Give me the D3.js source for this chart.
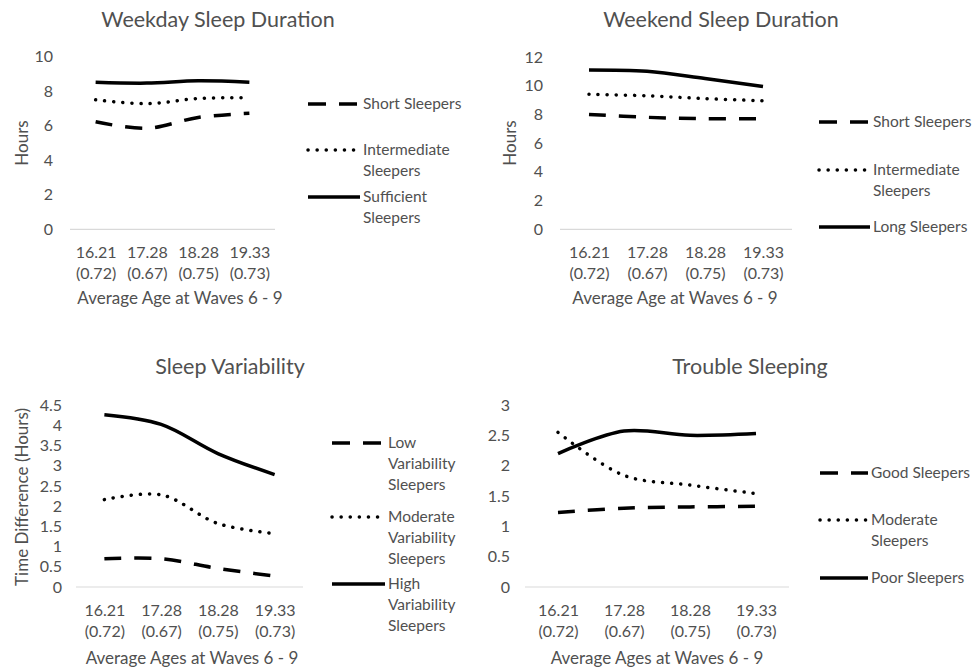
<!DOCTYPE html>
<html>
<head>
<meta charset="utf-8">
<script src="https://cdn.jsdelivr.net/npm/d3@7"></script>
<style>
    body { margin: 0; background: #fff; }
    text { font-family: Lato, 'Open Sans', sans-serif; fill: #505050; }
</style>
</head>
<body>
<svg id="chart" width="974" height="668"></svg>
<script>
// Categories (mean age and SD at each wave)
const ages = ['16.21', '17.28', '18.28', '19.33'];
const ageSDs = ['(0.72)', '(0.67)', '(0.75)', '(0.73)'];

// Weekday sleep duration (hours)
const weekdayShort = [6.23, 5.85, 6.48, 6.72];
const weekdayIntermediate = [7.5, 7.28, 7.58, 7.62];
const weekdaySufficient = [8.52, 8.47, 8.6, 8.52];

// Weekend sleep duration (hours)
const weekendShort = [8.0, 7.8, 7.7, 7.7];
const weekendIntermediate = [9.4, 9.3, 9.1, 8.95];
const weekendLong = [11.1, 11.0, 10.5, 9.95];

// Sleep variability (hours)
const variabilityLow = [0.7, 0.7, 0.46, 0.27];
const variabilityModerate = [2.16, 2.28, 1.57, 1.32];
const variabilityHigh = [4.26, 4.02, 3.3, 2.78];

// Trouble sleeping
const troubleGood = [1.23, 1.3, 1.32, 1.33];
const troubleModerate = [2.55, 1.84, 1.68, 1.54];
const troublePoor = [2.2, 2.57, 2.5, 2.53];

// Tick values per panel
const weekdayTicks = [0, 2, 4, 6, 8, 10];
const weekendTicks = [0, 2, 4, 6, 8, 10, 12];
const variabilityTicks = [0, 0.5, 1, 1.5, 2, 2.5, 3, 3.5, 4, 4.5];
const troubleTicks = [0, 0.5, 1, 1.5, 2, 2.5, 3];

const lineStyles = {
    dash: '17,13',
    dot: '0.1,9',
    solid: null
};

const svg = d3.select('#chart');

function drawPanel (p) {
    const g = svg.append('g').attr('class', 'panel');

    const xScale = d3.scalePoint()
        .domain(ages)
        .range([p.x0, p.x1])
        .padding(0.5);
    const yScale = d3.scaleLinear()
        .domain([0, d3.max(p.ticks)])
        .range([p.y0, p.yTop]);

    // baseline
    g.append('line')
        .attr('x1', p.x0).attr('x2', p.x1)
        .attr('y1', p.y0).attr('y2', p.y0)
        .attr('stroke', '#d9d9d9')
        .attr('stroke-width', 1.2);

    // y axis, no line and no ticks, only labels
    const yAxis = g.append('g')
        .attr('transform', `translate(${p.yLabelX},0)`)
        .call(d3.axisLeft(yScale).tickValues(p.ticks).tickSize(0).tickPadding(0).tickFormat(d3.format('~g')));
    yAxis.select('.domain').remove();
    yAxis.selectAll('text')
        .attr('font-size', '16px')
        .attr('fill', '#505050')
        .attr('font-family', 'Lato, sans-serif');

    // x axis, two lines per category
    const xAxis = g.append('g')
        .attr('transform', `translate(0,${p.xLabelY})`)
        .call(d3.axisBottom(xScale).tickSize(0).tickPadding(0));
    xAxis.select('.domain').remove();
    xAxis.selectAll('text').remove();
    xAxis.selectAll('.tick').append('text')
        .attr('text-anchor', 'middle')
        .attr('font-size', '16px')
        .attr('y', 6)
        .text(d => d);
    xAxis.selectAll('.tick').append('text')
        .attr('text-anchor', 'middle')
        .attr('font-size', '16px')
        .attr('y', 27)
        .text((d, i) => ageSDs[i]);

    // titles
    g.append('text')
        .attr('x', p.titleX).attr('y', p.titleY)
        .attr('text-anchor', 'middle')
        .attr('font-size', '21.5px')
        .text(p.title);
    g.append('text')
        .attr('x', p.xTitleX).attr('y', p.xTitleY)
        .attr('text-anchor', 'middle')
        .attr('font-size', '17px')
        .text(p.xTitle);
    if (p.yTitle) {
        g.append('text')
            .attr('transform', `translate(${p.yTitleX},${p.yTitleY}) rotate(-90)`)
            .attr('text-anchor', 'middle')
            .attr('dy', '0.35em')
            .attr('font-size', '17px')
            .text(p.yTitle);
    }

    // series lines
    const line = d3.line()
        .x((d, i) => xScale(ages[i]))
        .y(d => yScale(d))
        .curve(d3.curveCatmullRom.alpha(0.5));

    g.selectAll('.series')
        .data(p.series)
        .join('path')
            .attr('class', 'series')
            .attr('fill', 'none')
            .attr('stroke', '#000')
            .attr('stroke-width', 3.5)
            .attr('stroke-linecap', d => d.style === 'dot' ? 'round' : 'butt')
            .attr('stroke-dasharray', d => lineStyles[d.style])
            .attr('d', d => line(d.values));

    // legend
    const items = g.selectAll('.legend-item')
        .data(p.series)
        .join('g')
            .attr('class', 'legend-item')
            .attr('transform', (d, i) => `translate(${p.legendX},${p.legendY[i]})`);
    items.append('line')
        .attr('x1', 0).attr('x2', p.legendLen)
        .attr('stroke', '#000')
        .attr('stroke-width', 3.5)
        .attr('stroke-linecap', d => d.style === 'dot' ? 'round' : 'butt')
        .attr('stroke-dasharray', d => d.style === 'dash' ? '18,13' : lineStyles[d.style]);
    items.append('text')
        .attr('x', p.legendLen + 3)
        .attr('font-size', '15.5px')
        .selectAll('tspan')
        .data(d => d.label)
        .join('tspan')
            .attr('x', p.legendLen + 3)
            .attr('y', (d, i) => i * 20.7)
            .attr('dy', '0.35em')
            .text(d => d);
}

drawPanel({
    title: 'Weekday Sleep Duration', titleX: 218, titleY: 27,
    xTitle: 'Average Age at Waves 6 - 9', xTitleX: 180, xTitleY: 304,
    yTitle: 'Hours', yTitleX: 22, yTitleY: 143,
    x0: 70, x1: 275, y0: 229.3, yTop: 56.7, yLabelX: 53,
    xLabelY: 252, ticks: weekdayTicks,
    legendX: 308, legendLen: 52, legendY: [104, 150, 197],
    series: [
        {style: 'dash', values: weekdayShort, label: ['Short Sleepers']},
        {style: 'dot', values: weekdayIntermediate, label: ['Intermediate', 'Sleepers']},
        {style: 'solid', values: weekdaySufficient, label: ['Sufficient', 'Sleepers']}
    ]
});

drawPanel({
    title: 'Weekend Sleep Duration', titleX: 721, titleY: 27,
    xTitle: 'Average Age at Waves 6 - 9', xTitleX: 675, xTitleY: 304,
    yTitle: 'Hours', yTitleX: 510, yTitleY: 143,
    x0: 560, x1: 792, y0: 229.3, yTop: 57, yLabelX: 543,
    xLabelY: 252, ticks: weekendTicks,
    legendX: 819, legendLen: 51, legendY: [122, 170, 227],
    series: [
        {style: 'dash', values: weekendShort, label: ['Short Sleepers']},
        {style: 'dot', values: weekendIntermediate, label: ['Intermediate', 'Sleepers']},
        {style: 'solid', values: weekendLong, label: ['Long Sleepers']}
    ]
});

drawPanel({
    title: 'Sleep Variability', titleX: 230, titleY: 374,
    xTitle: 'Average Ages at Waves 6 - 9', xTitleX: 192, xTitleY: 664,
    yTitle: 'Time Difference (Hours)', yTitleX: 22, yTitleY: 497,
    x0: 76, x1: 303, y0: 587, yTop: 405, yLabelX: 62,
    xLabelY: 610, ticks: variabilityTicks,
    legendX: 332, legendLen: 53, legendY: [443, 517, 584],
    series: [
        {style: 'dash', values: variabilityLow, label: ['Low', 'Variability', 'Sleepers']},
        {style: 'dot', values: variabilityModerate, label: ['Moderate', 'Variability', 'Sleepers']},
        {style: 'solid', values: variabilityHigh, label: ['High', 'Variability', 'Sleepers']}
    ]
});

drawPanel({
    title: 'Trouble Sleeping', titleX: 750, titleY: 374,
    xTitle: 'Average Ages at Waves 6 - 9', xTitleX: 657, xTitleY: 664,
    yTitle: null,
    x0: 525, x1: 789, y0: 587, yTop: 405, yLabelX: 510,
    xLabelY: 610, ticks: troubleTicks,
    legendX: 820, legendLen: 48, legendY: [473, 520, 578],
    series: [
        {style: 'dash', values: troubleGood, label: ['Good Sleepers']},
        {style: 'dot', values: troubleModerate, label: ['Moderate', 'Sleepers']},
        {style: 'solid', values: troublePoor, label: ['Poor Sleepers']}
    ]
});
</script>
</body>
</html>
